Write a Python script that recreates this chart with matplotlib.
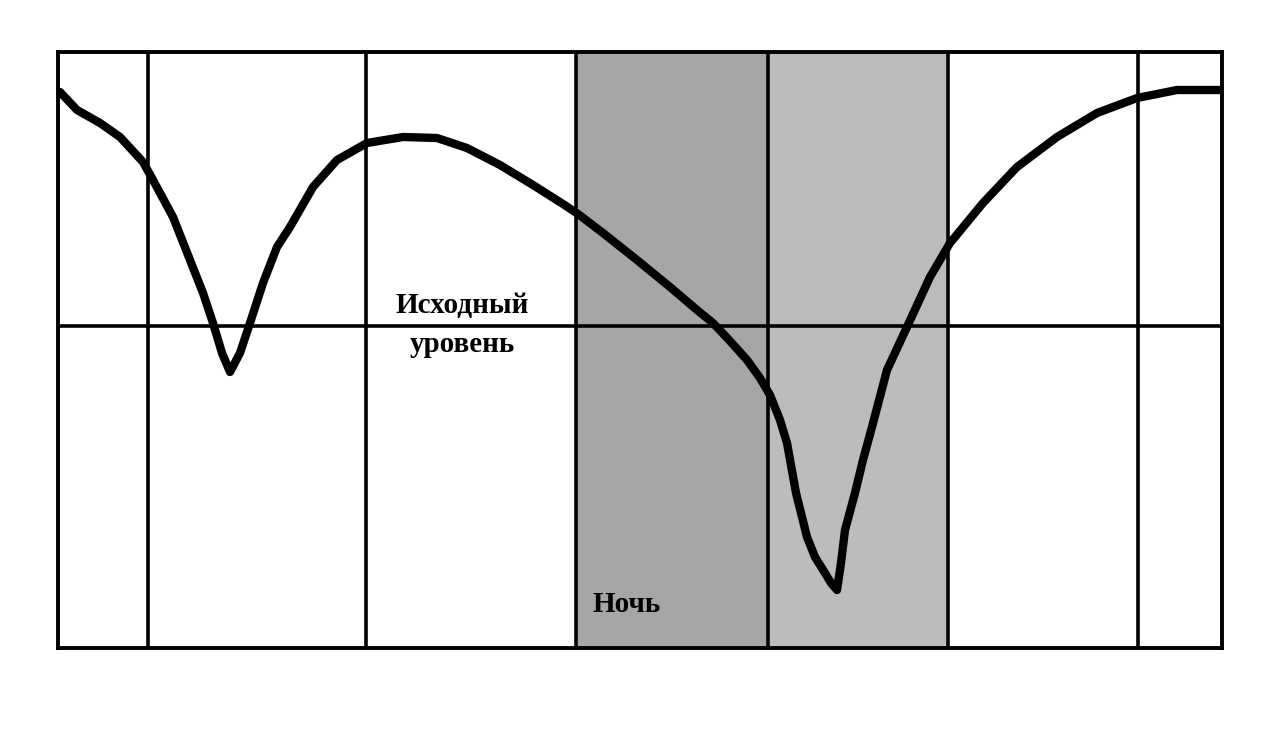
import matplotlib
matplotlib.use("Agg")
import matplotlib.pyplot as plt

# Curve (x: time position, y: level)
curve_x = [2, 19, 42, 62, 85, 95, 115, 132, 145, 155, 164, 172, 182, 192, 205, 219,
           232, 255, 279, 309, 345, 379, 409, 442, 475, 505, 520, 545, 579, 612,
           639, 655, 672, 689, 702, 712, 722, 729, 738, 749, 757, 767, 773, 779,
           783, 787, 797, 805, 814, 829, 849, 872, 892, 925, 959, 999, 1039, 1079,
           1119, 1162]
curve_y = [556, 538, 525, 511, 486, 468, 431, 388, 355, 325, 295, 276, 295, 325, 365, 401,
           421, 461, 488, 505, 511, 510, 500, 483, 463, 444, 434, 415, 388, 361,
           338, 325, 307, 288, 270, 253, 228, 205, 155, 111, 91, 75, 65, 58,
           85, 118, 155, 188, 221, 278, 321, 371, 405, 445, 481, 511, 535, 550,
           558, 558]

grid_x = [90, 308, 518, 710, 890, 1080]
baseline = 322
night_zones = [(518, 710), (710, 890)]
night_colors = ["#a6a6a6", "#bcbcbc"]
label_base_1 = "Исходный"
label_base_2 = "уровень"
label_night = "Ночь"

fig = plt.figure(figsize=(12.64, 7.35), dpi=100)
ax = fig.add_axes([58 / 1264, 1 - 648 / 735, 1164 / 1264, 596 / 735])
ax.set_xlim(0, 1164)
ax.set_ylim(0, 596)

for (a, b), c in zip(night_zones, night_colors):
    ax.axvspan(a, b, color=c, lw=0, zorder=0)

for gx in grid_x:
    ax.axvline(gx, color="black", lw=2.6, zorder=1)
ax.axhline(baseline, color="black", lw=2.6, zorder=1)

ax.plot(curve_x, curve_y, color="black", lw=6, solid_joinstyle="round",
        solid_capstyle="round", zorder=3)

txt = dict(ha="center", va="center", fontsize=21, fontweight="bold",
           family="Liberation Serif", zorder=4)
ax.text(404, 343, label_base_1, **txt)
ax.text(404, 303, label_base_2, **txt)
ax.text(569, 44, label_night, **txt)

ax.set_xticks([])
ax.set_yticks([])
for s in ax.spines.values():
    s.set_linewidth(2.8)
    s.set_color("black")

fig.savefig("out.png", dpi=100, facecolor="white")
